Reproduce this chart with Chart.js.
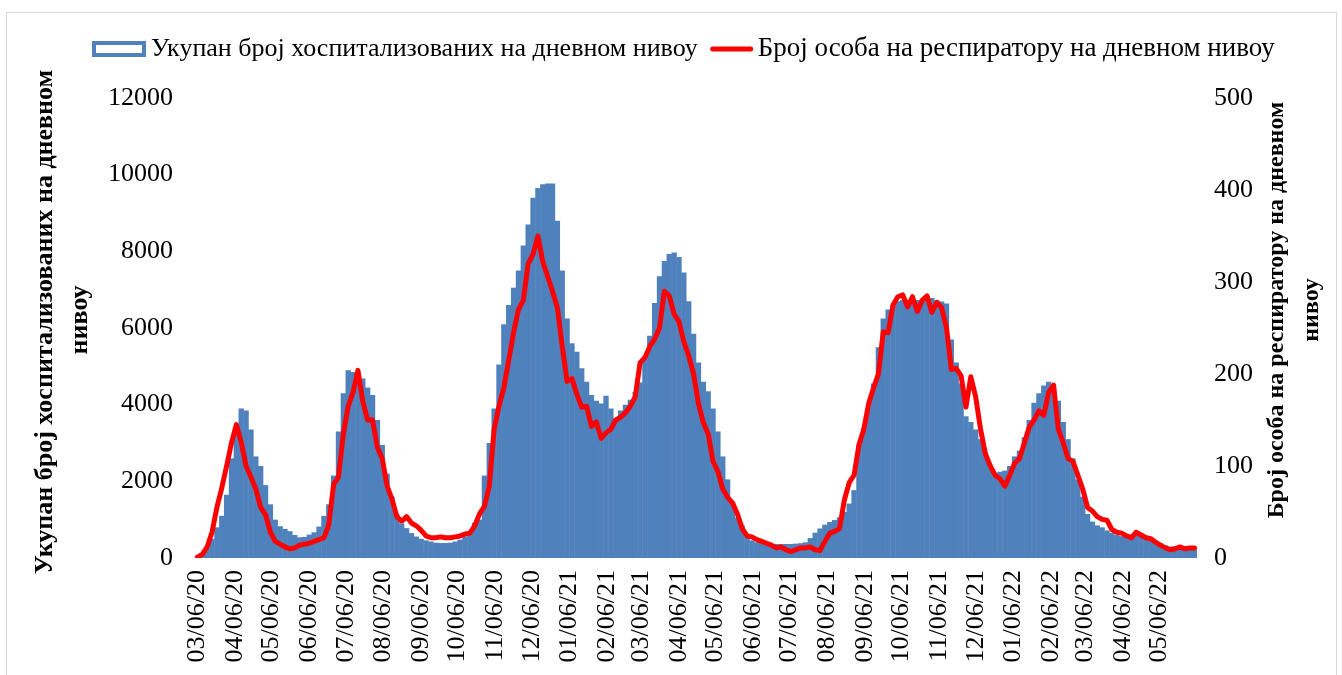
<!DOCTYPE html>
<html>
<head>
<meta charset="utf-8">
<script src="https://cdn.jsdelivr.net/npm/chart.js@4"></script>
<style>
  body { margin: 0; background: #fff; }
  #wrap { width: 1342px; height: 675px; }
</style>
</head>
<body>
<div id="wrap"><canvas id="chart" width="1342" height="675"></canvas></div>
<script>
// serije (uzorak na svaka 4 dana, od 06.03.2020)
var startDate = '2020-03-06';
var stepDays = 4;

var seriesNames = ['Укупан број хоспитализованих на дневном нивоу', 'Број особа на респиратору на дневном нивоу'];
var leftTitle = ['Укупан број хоспитализованих на дневном', 'нивоу'];
var rightTitle = ['Број особа на респиратору на дневном', 'нивоу'];

var tickLabels = ['03/06/20','04/06/20','05/06/20','06/06/20','07/06/20','08/06/20','09/06/20','10/06/20','11/06/20','12/06/20',
  '01/06/21','02/06/21','03/06/21','04/06/21','05/06/21','06/06/21','07/06/21','08/06/21','09/06/21','10/06/21','11/06/21','12/06/21',
  '01/06/22','02/06/22','03/06/22','04/06/22','05/06/22'];

var hospitalized = [
  10, 100, 250, 500, 800, 1100, 1650, 2600, 3300, 3900,
  3850, 3350, 2650, 2400, 1900, 1400, 1000, 830, 760, 700,
  600, 540, 550, 610, 670, 820, 1100, 1400, 2150, 3300,
  4300, 4900, 4850, 4780, 4680, 4450, 4250, 3600, 2950, 2200,
  1600, 1150, 900, 780, 650, 560, 500, 460, 430, 400,
  390, 390, 400, 430, 480, 560, 700, 920, 1000, 2150,
  3000, 3900, 5050, 6100, 6600, 7050, 7500, 8150, 8700, 9400,
  9650, 9750, 9770, 9770, 8800, 7500, 6250, 5600, 5380, 4950,
  4600, 4250, 4100, 4030, 4230, 3900, 3650, 3850, 4000, 4130,
  4330, 4580, 5200, 5800, 6650, 7350, 7750, 7930, 7970, 7850,
  7450, 6700, 5850, 5100, 4600, 4350, 3900, 3300, 2650, 2050,
  1450, 1050, 850, 580, 460, 410, 390, 375, 370, 365,
  365, 365, 365, 375, 385, 410, 520, 660, 770, 870,
  940, 990, 1060, 1200, 1420, 1770, 2950, 3400, 3950, 4550,
  5500, 6250, 6480, 6600, 6700, 6730, 6730, 6730, 6730, 6750,
  6780, 6780, 6720, 6690, 6640, 5700, 5100, 4550, 3700, 3550,
  3350, 3100, 2750, 2400, 2220, 2250, 2280, 2400, 2650, 2800,
  3150, 3600, 4050, 4300, 4500, 4600, 4520, 4100, 3550, 3100,
  2600, 2050, 1600, 1150, 950, 850, 800, 720, 660, 600,
  570, 560, 600, 680, 620, 580, 550, 450, 380, 330,
  300, 300, 300, 280, 250, 220
];

var respirator = [
  1, 4, 12, 28, 55, 76, 100, 125, 145, 126,
  100, 88, 75, 55, 47, 28, 18, 15, 12, 10,
  11, 14, 15, 16, 18, 20, 22, 36, 80, 88,
  135, 165, 180, 204, 170, 150, 150, 120, 108, 78,
  64, 45, 40, 45, 38, 35, 30, 24, 22, 22,
  23, 22, 22, 23, 24, 26, 27, 35, 48, 56,
  78, 140, 165, 185, 215, 245, 270, 280, 320, 330,
  350, 322, 306, 290, 272, 230, 192, 195, 178, 164,
  165, 143, 148, 130, 136, 140, 150, 153, 158, 165,
  175, 212, 218, 230, 238, 250, 290, 285, 265, 257,
  235, 220, 200, 168, 147, 135, 105, 94, 75, 66,
  60, 48, 32, 24, 23, 20, 18, 16, 14, 11,
  12, 9, 7, 9, 11, 11, 12, 9, 8, 18,
  27, 29, 32, 63, 82, 90, 123, 140, 168, 185,
  200, 246, 245, 275, 284, 286, 273, 284, 268, 280,
  285, 267, 278, 272, 250, 205, 206, 198, 164, 197,
  175, 140, 113, 100, 90, 86, 78, 90, 103, 108,
  125, 142, 150, 160, 155, 180, 188, 140, 125, 108,
  105, 90, 75, 55, 51, 45, 42, 41, 31, 28,
  27, 24, 22, 28, 25, 22, 21, 17, 14, 11,
  9, 10, 12, 10, 11, 11
];

var BLUE = '#4f81bd';
var RED = '#ff0000';
var FONT = '"Liberation Serif", "Times New Roman", serif';

// dan od pocetka za svaku oznaku na x osi
var t0 = Date.parse(startDate + 'T00:00:00Z');
function dayOf(label) {
  var p = label.split('/');
  return Math.round((Date.UTC(2000 + (+p[2]), +p[0] - 1, +p[1]) - t0) / 86400000);
}
var tickDays = tickLabels.map(dayOf);

function points(arr) {
  return arr.map(function (v, i) { return { x: i * stepDays, y: v }; });
}

// legenda i naslovi osa kao u Excelu
var excelText = {
  id: 'excelText',
  afterDraw: function (chart) {
    var ctx = chart.ctx;
    var area = chart.chartArea;
    ctx.save();

    // okvir
    ctx.strokeStyle = '#d9d9d9';
    ctx.lineWidth = 1;
    ctx.strokeRect(6.5, 12.5, 1330, 700);

    // legenda
    ctx.font = '26px ' + FONT;
    ctx.textBaseline = 'middle';
    ctx.textAlign = 'left';
    var w1 = ctx.measureText(seriesNames[0]).width;
    var boxW = 54, gap = 5, itemGap = 13, lineW = 42;
    var x = 92;
    var y = 49;
    ctx.fillStyle = BLUE;
    ctx.fillRect(x, y - 8, boxW, 16);
    ctx.fillStyle = '#fff';
    ctx.fillRect(x + 4, y - 4, boxW - 8, 8);
    ctx.fillStyle = '#000';
    ctx.fillText(seriesNames[0], x + boxW + gap, y);
    x += boxW + gap + w1 + itemGap;
    ctx.strokeStyle = RED;
    ctx.lineWidth = 5;
    ctx.lineCap = 'round';
    ctx.beginPath();
    ctx.moveTo(x + 2, y);
    ctx.lineTo(x + lineW - 2, y);
    ctx.stroke();
    ctx.font = '27px ' + FONT;
    ctx.fillText(seriesNames[1], x + lineW + gap, y);

    // naslovi osa
    var mid = (area.top + area.bottom) / 2;
    ctx.textAlign = 'center';
    function vtext(txt, cx, cy) {
      ctx.save();
      ctx.translate(cx, cy);
      ctx.rotate(-Math.PI / 2);
      ctx.fillText(txt, 0, 0);
      ctx.restore();
    }
    ctx.font = 'bold 26px ' + FONT;
    vtext(leftTitle[0], area.left - 150, mid - 6);
    vtext(leftTitle[1], area.left - 115, mid - 8);
    ctx.font = 'bold 24px ' + FONT;
    vtext(rightTitle[0], area.right + 80, mid - 18);
    vtext(rightTitle[1], area.right + 115, mid - 18);
    ctx.restore();
  }
};

function plain(v) { return String(v); }

var ctx = document.getElementById('chart').getContext('2d');
var chart = new Chart(ctx, {
  type: 'bar',
  data: {
    datasets: [{
      type: 'line',
      label: seriesNames[1],
      data: points(respirator),
      yAxisID: 'y1',
      borderColor: RED,
      backgroundColor: RED,
      borderWidth: 5,
      pointRadius: 0,
      pointHoverRadius: 0,
      tension: 0,
      borderJoinStyle: 'round',
      borderCapStyle: 'round',
      order: 1
    }, {
      type: 'bar',
      label: seriesNames[0],
      data: points(hospitalized),
      yAxisID: 'y',
      backgroundColor: BLUE,
      borderWidth: 0,
      barPercentage: 1.1,
      categoryPercentage: 1,
      order: 2
    }]
  },
  options: {
    responsive: false,
    animation: false,
    layout: { padding: { top: 98, left: 0, right: 0, bottom: 0 } },
    plugins: {
      legend: { display: false },
      tooltip: { enabled: false }
    },
    scales: {
      x: {
        type: 'linear',
        offset: false,
        min: -2,
        max: 822,
        grid: { display: false, drawTicks: false, offset: false },
        border: { display: false },
        afterFit: function (s) {
          s.height = 117;
          s.paddingLeft = 0;
          s.paddingRight = 0;
        },
        afterBuildTicks: function (axis) {
          axis.ticks = tickDays.map(function (d) { return { value: d }; });
        },
        ticks: {
          autoSkip: false,
          minRotation: 90,
          maxRotation: 90,
          padding: 12,
          color: '#000',
          font: { family: FONT, size: 26 },
          callback: function (v, i) { return tickLabels[i]; }
        }
      },
      y: {
        position: 'left',
        min: 0,
        max: 12000,
        grid: { display: false, drawTicks: false },
        border: { display: false },
        afterFit: function (s) {
          s.width = 195;
          s.paddingTop = 0;
          s.paddingBottom = 0;
        },
        ticks: {
          stepSize: 2000,
          padding: 22,
          color: '#000',
          font: { family: FONT, size: 26 },
          callback: plain
        }
      },
      y1: {
        position: 'right',
        min: 0,
        max: 500,
        grid: { display: false, drawTicks: false },
        border: { display: false },
        afterFit: function (s) {
          s.width = 145;
          s.paddingTop = 0;
          s.paddingBottom = 0;
        },
        ticks: {
          stepSize: 100,
          padding: 17,
          color: '#000',
          font: { family: FONT, size: 26 },
          callback: plain
        }
      }
    }
  },
  plugins: [excelText]
});
</script>
</body>
</html>
